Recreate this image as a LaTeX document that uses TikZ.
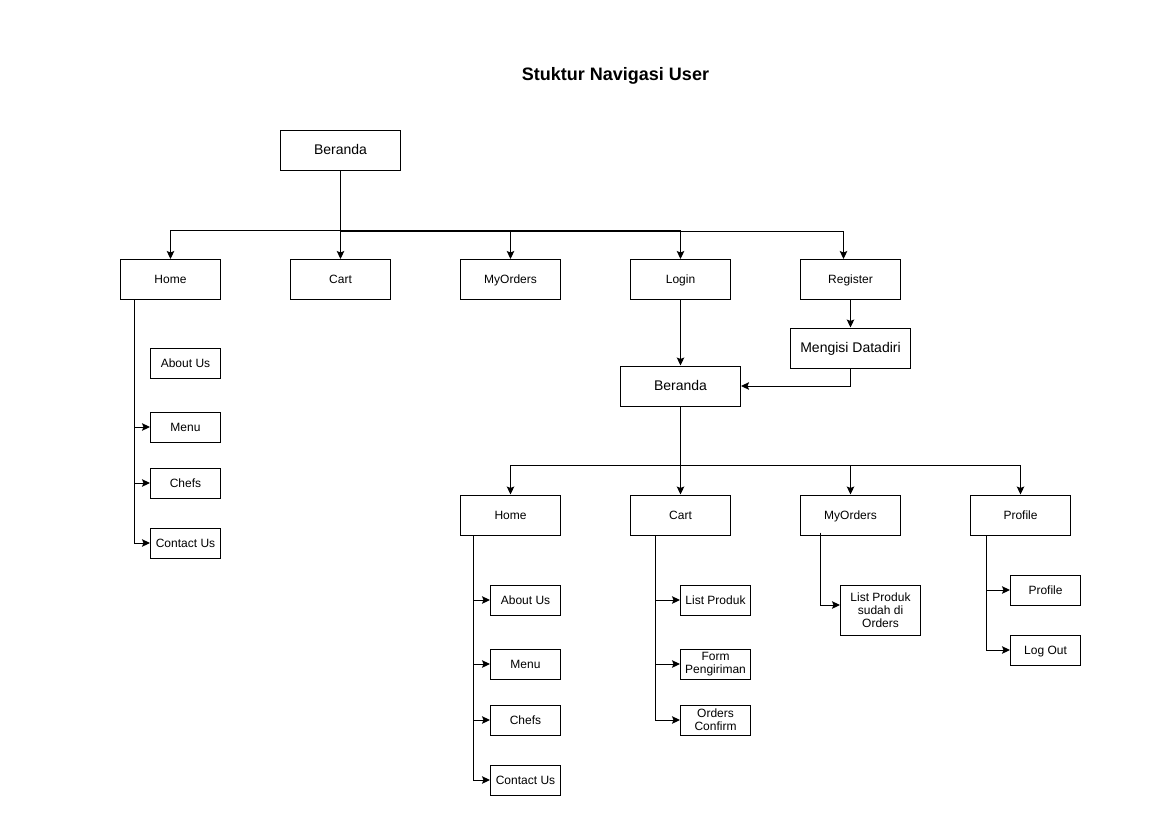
\documentclass[tikz,border=0pt]{standalone}
\usepackage{fontspec}
\setmainfont{Liberation Sans}
\usepackage{tikz}
\usetikzlibrary{arrows.meta,calc,positioning}
\tikzstyle{box}=[rectangle, draw, line width=1pt, minimum width=100pt, minimum height=40pt, inner sep=1pt, align=center, text height=8.6pt, text depth=0.4pt, font=\fontsize{12}{13}\selectfont]
\tikzstyle{bigbox}=[box, minimum width=120pt, text height=10pt, text depth=0.4pt, font=\fontsize{14}{16}\selectfont]
\tikzstyle{leaf}=[box, minimum width=70pt, minimum height=30pt]
\tikzstyle{multi}=[leaf, text height=, text depth=]
\tikzstyle{arr}=[line width=1pt, -{Stealth[length=8pt,width=7.5pt,inset=1.5pt]}]

\begin{document}
\begin{tikzpicture}[x=1pt,y=-1pt]
\fill[white] (0,0) rectangle (1169,827);
\useasboundingbox (0,0) rectangle (1169,827);
\node (title) at (615.5,76) {\fontsize{18}{20}\selectfont\bfseries Stuktur Navigasi User};
% first level
\node (ber) at (340.5,150)[bigbox] {Beranda};
\node (home) at (170.5,279.5)[box] {Home};
\node (cart) at (340.5,279.5)[box] {Cart};
\node (ord) at (510.5,279.5)[box] {MyOrders};
\node (login) at (680.5,279.5)[box] {Login};
\node (reg) at (850.5,279.5)[box] {Register};
\node (data) at (850.5,348)[bigbox] {Mengisi Datadiri};
\node (ber2) at (680.5,386)[bigbox] {Beranda};
\draw[arr] (ber.south) -- ++(0,60) -| (home.north);
\draw[arr] (ber.south) -- (cart.north);
\draw[arr] (ber.south) -- ++(0,60) -| (ord.north);
\draw[arr] (ber.south) -- ++(0,60) -| (login.north);
\draw[arr] (ber.south) -- ++(0,61) -| ([xshift=-7pt]reg.north);
\draw[arr] (login) -- (ber2);
\draw[arr] (reg) -- (data);
\draw[arr] (data.south) |- (ber2.east);
% home (guest)
\node (about) at (185.5,363)[leaf] {About Us};
\node (menu) at (185.5,427)[leaf] {Menu};
\node (chefs) at (185.5,483)[leaf] {Chefs};
\node (contact) at (185.5,543)[leaf] {Contact Us};
\coordinate (hs) at ([xshift=14pt]home.south west);
\draw[arr] (hs) |- (menu.west);
\draw[arr] (hs) |- (chefs.west);
\draw[arr] (hs) |- (contact.west);
% second level
\node (home2) at (510.5,515)[box] {Home};
\node (cart2) at (680.5,515)[box] {Cart};
\node (ord2) at (850.5,515)[box] {MyOrders};
\node (prof) at (1020.5,515)[box] {Profile};
\draw[arr] (ber2.south) -- ++(0,59) -| (home2.north);
\draw[arr] (ber2.south) -- (cart2.north);
\draw[arr] (ber2.south) -- ++(0,59) -| (ord2.north);
\draw[arr] (ber2.south) -- ++(0,59) -| (prof.north);
% home (user)
\node (about2) at (525.5,600)[leaf] {About Us};
\node (menu2) at (525.5,664)[leaf] {Menu};
\node (chefs2) at (525.5,720)[leaf] {Chefs};
\node (contact2) at (525.5,780)[leaf] {Contact Us};
\coordinate (hs2) at ([xshift=13pt]home2.south west);
\draw[arr] (hs2) |- (about2.west);
\draw[arr] (hs2) |- (menu2.west);
\draw[arr] (hs2) |- (chefs2.west);
\draw[arr] (hs2) |- (contact2.west);
% cart
\node (list) at (715.5,600)[leaf] {List Produk};
\node (form) at (715.5,664)[multi] {Form\\Pengiriman};
\node (conf) at (715.5,720)[multi] {Orders\\Confirm};
\coordinate (cs) at ([xshift=25pt]cart2.south west);
\draw[arr] (cs) |- (list.west);
\draw[arr] (cs) |- (form.west);
\draw[arr] (cs) |- (conf.west);
% myorders
\node (done) at (880.5,610)[multi, minimum width=80pt, minimum height=50pt] {List Produk\\sudah di\\Orders};
\draw[arr] ([xshift=20pt,yshift=3pt]ord2.south west) |- ([yshift=5pt]done.west);
% profile
\node (prof2) at (1045.5,590)[leaf] {Profile};
\node (out) at (1045.5,650)[leaf] {Log Out};
\coordinate (ps) at ([xshift=16pt]prof.south west);
\draw[arr] (ps) |- (prof2.west);
\draw[arr] (ps) |- (out.west);
\end{tikzpicture}
\end{document}
